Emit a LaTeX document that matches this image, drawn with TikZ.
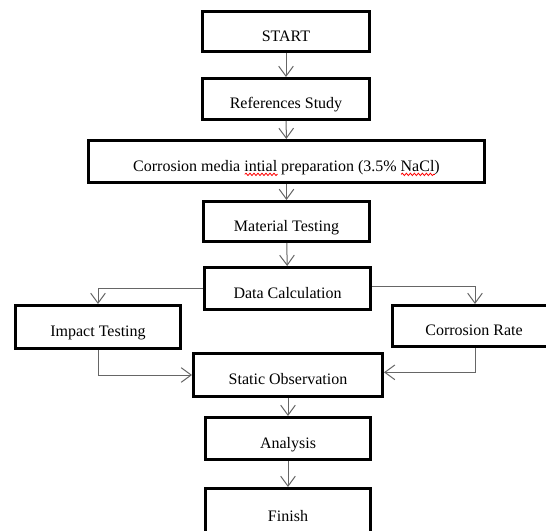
\documentclass[tikz,border=0pt]{standalone}
\usepackage{fontspec}
\setmainfont{Liberation Serif}
\usetikzlibrary{arrows.meta,decorations.pathmorphing}
\newsavebox\sqbox
\newcommand\redsquig[1]{\sbox\sqbox{#1}\leavevmode\rlap{\raisebox{-3.6pt}[0pt][0pt]{\tikz[x=1pt,y=1pt]\draw[red,line width=0.6pt,decorate,decoration={snake,amplitude=0.9pt,segment length=3pt}] (0,0)--(\wd\sqbox,0);}}\usebox\sqbox}
\tikzset{
  box/.style={draw, line width=2.6pt, inner sep=0pt, text height=15pt, text depth=0.5pt, font=\fontsize{12}{14}\selectfont, fill=white},
  conn/.style={draw=black!60, line width=0.75pt, -{Straight Barb[length=7.5pt,width=11pt,line width=0.75pt]}},
}
\begin{document}
\begin{tikzpicture}[x=0.75pt,y=-0.75pt]
\useasboundingbox (0,0) rectangle (546,531);
\clip (0,0) rectangle (546,531);
\fill[white] (0,0) rectangle (546,531);
\node[box, minimum width=124.9pt, minimum height=29.65pt] (start) at (286,31.5) {START};
\node[box, minimum width=124.9pt, minimum height=30.4pt] (refs) at (286,99) {References Study};
\node[box, minimum width=296.65pt, minimum height=31.15pt] (corr) at (286.5,161.5) {Corrosion media \redsquig{intial} preparation (3.5\% \redsquig{NaCl})};
\node[box, minimum width=124.15pt, minimum height=29.65pt] (mat) at (286.5,221.5) {Material Testing};
\node[box, minimum width=124.15pt, minimum height=31.15pt] (dc) at (287.5,288.5) {Data Calculation};
\node[box, minimum width=123.4pt, minimum height=31.9pt] (it) at (98,327) {Impact Testing};
\node[box, minimum width=121.9pt, minimum height=30.4pt] (cr) at (474,326) {Corrosion Rate};
\node[box, minimum width=141.4pt, minimum height=31.9pt] (so) at (288,375) {Static Observation};
\node[box, minimum width=123.4pt, minimum height=31.15pt] (an) at (288,438.5) {Analysis};
\node[box, minimum width=123.4pt, minimum height=34.9pt] (fin) at (288,512) {Finish};
\draw[conn] (start) -- (refs);
\draw[conn] (refs) -- (corr);
\draw[conn] (corr) -- (mat);
\draw[conn] (mat) -- (dc);
\draw[conn] (dc.west) -| (it.north);
\draw[conn] ([yshift=1.5pt]dc.east) -| ([xshift=0.75pt]cr.north);
\draw[conn] (it.south) |- (so.west);
\draw[conn] ([xshift=0.75pt]cr.south) |- ([yshift=2pt]so.east);
\draw[conn] (so) -- (an);
\draw[conn] (an) -- (fin);
\end{tikzpicture}
\end{document}
